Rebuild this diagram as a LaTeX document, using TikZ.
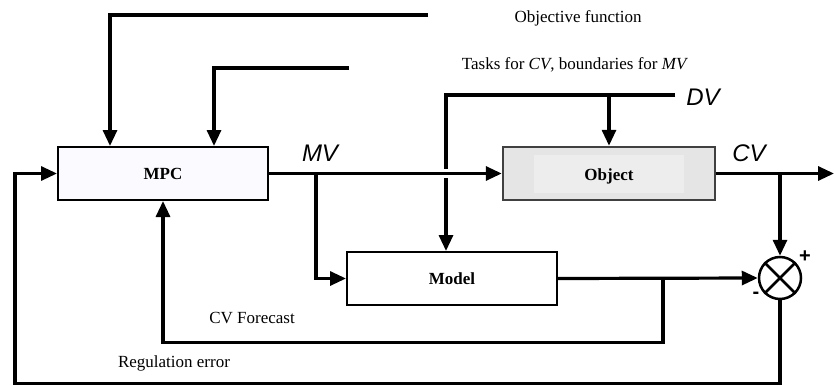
\documentclass[tikz,border=0pt]{standalone}
\usepackage{fontspec}
\setmainfont{Liberation Serif}
\setsansfont{Liberation Sans}
\usetikzlibrary{positioning,arrows.meta,shapes,calc}

\begin{document}
\begin{tikzpicture}[
  x=1pt, y=-1pt,
  font=\fontsize{17}{20}\selectfont,
  block/.style={draw, line width=2pt, minimum width=210pt, minimum height=53pt, inner sep=0pt, font=\fontsize{17}{20}\selectfont\bfseries},
  arr/.style={line width=3.2pt, -{Triangle[length=16pt, width=14pt]}},
  varlabel/.style={font=\fontsize{24}{26}\selectfont\sffamily\itshape}
]
\useasboundingbox (0,0) rectangle (834,385);

\node[block, fill=blue!2] (mpc) at (163,173.5) {MPC};
\node[block, fill=gray!20, draw=black!75, line width=2.5pt, minimum width=212pt] (obj) at (609,173.5) {};
\node[fill=gray!14, minimum width=150pt, minimum height=38pt, inner sep=0pt] at (obj.center) {};
\node[font=\fontsize{17}{20}\selectfont\bfseries] (objtext) at ([yshift=-3pt]obj.center) {Object};
\node[block, fill=white] (model) at (452,278.5) {Model};
\node[draw, circle, line width=2.5pt, minimum size=42pt, inner sep=0pt] (sum) at (780,278) {};
\draw[line width=2.5pt] (sum.north east) -- (sum.south west) (sum.north west) -- (sum.south east);

% free ends of the inputs
\coordinate (objfun) at (428,15);
\coordinate (tasks) at (349,68);
\coordinate (dvin) at (675,95);
\coordinate (cvout) at (834,173.5);
\coordinate (mvsplit) at ($(mpc.east)+(47,0)$);
\coordinate (fcsplit) at ($(model.east)+(105,0)$);

\draw[arr] (objfun) -| ([xshift=-53pt]mpc.north);
\draw[arr] (tasks) -| ([xshift=51pt]mpc.north);
\draw[arr] (dvin) -| (obj.north);
\draw[arr] (dvin) -| ([xshift=-6pt]model.north);
\draw[arr, preaction={draw=white, line width=9pt, -}] (mpc.east) -- (obj.west);
\draw[arr] (mvsplit) |- (model.west);
\draw[arr] (obj.east) -- (cvout);
\draw[arr] (sum.north |- obj.east) -- (sum.north);
\draw[arr] (model.east) -- (sum.west);
\draw[arr] (fcsplit) -- ++(0,64) -| (mpc.south);
\draw[arr] (sum.south) -- ++(0,83) -| ($(mpc.west)+(-42,0)$) -- (mpc.west);

% labels
\node (objlabel) at (578,18) {Objective function};
\node (tasklabel) at (575,65) {Tasks for \textit{CV}, boundaries for \textit{MV}};
\node[varlabel] (mvlabel) at (320,153) {MV};
\node[varlabel] (dvlabel) at (703,97) {DV};
\node[varlabel] (cvlabel) at (749,153) {CV};
\node (fclabel) at (252,318) {CV Forecast};
\node (errlabel) at (174,363) {Regulation error};
\node[font=\fontsize{20}{22}\selectfont\sffamily\bfseries] (plus) at (805,257) {+};
\node[font=\fontsize{20}{22}\selectfont\sffamily\bfseries] (minus) at (756,295) {-};
\end{tikzpicture}
\end{document}
